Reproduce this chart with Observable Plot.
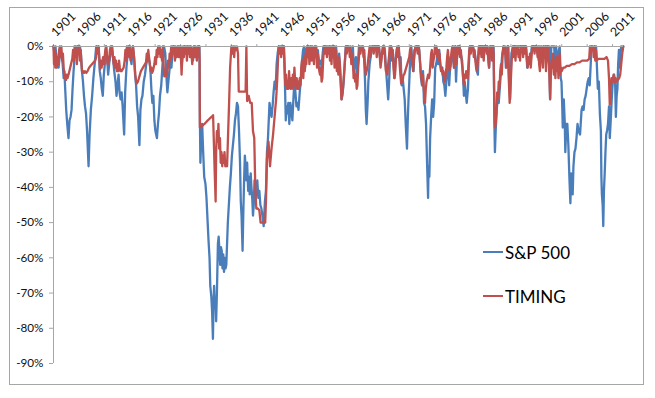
<!DOCTYPE html>
<html>
<head>
<meta charset="utf-8">
<script src="https://cdn.jsdelivr.net/npm/d3@7"></script>
<script src="https://cdn.jsdelivr.net/npm/@observablehq/plot@0.6"></script>
<style>
html,body{margin:0;padding:0;background:#fff;}
#wrap{position:relative;width:655px;height:398px;overflow:hidden;font-family:Lato,"Open Sans",sans-serif;}
#border{position:absolute;left:9px;top:7px;width:635px;height:378px;border:1px solid #a6a6a6;box-sizing:border-box;}
#chart{position:absolute;left:0;top:0;}
.leg{position:absolute;left:483px;height:20px;display:flex;align-items:center;font-size:17px;color:#000;white-space:nowrap;}
.leg .sw{display:inline-block;width:20px;height:2px;margin-right:2px;}
</style>
</head>
<body>
<div id="wrap"><div id="border"></div><div id="chart"></div></div>
<script>
// Drawdown series: [decimal year, drawdown %]
const sp500Drawdown = [
[1901.0,0],[1901.2,-2],[1901.4,0],[1901.6,-4],[1901.8,-3],[1902.0,-6],[1902.2,-3],[1902.4,-1],[1902.6,-2],[1902.8,-5],[1903.0,-9],[1903.15,-7],[1903.3,-12],[1903.5,-18],[1903.7,-22],[1903.95,-26],[1904.15,-21],[1904.35,-20],[1904.55,-18],[1904.75,-12],[1904.95,-7],[1905.15,-3],[1905.4,0],[1905.6,-2],[1905.8,0],[1906.0,-1],[1906.2,0],[1906.4,-2],[1906.6,-7],[1906.8,-10],[1907.0,-14],[1907.2,-17],[1907.4,-19],[1907.6,-24],[1907.9,-34],[1908.1,-25],[1908.35,-18],[1908.6,-14],[1908.85,-9],[1909.1,-5],[1909.4,0],[1909.7,-1],[1909.9,0],
[1910.1,-7],[1910.3,-9],[1910.5,-12],[1910.7,-14],[1910.9,-8],[1911.1,-5],[1911.35,0],[1911.55,-3],[1911.75,-8],[1911.95,-5],[1912.2,-2],[1912.45,0],[1912.7,-3],[1912.95,-7],[1913.2,-10],[1913.4,-14],[1913.6,-11],[1913.8,-8],[1914.0,-13],[1914.2,-15],[1914.4,-13],[1914.6,-17],[1914.9,-25],[1915.1,-13],[1915.35,-6],[1915.6,-2],[1915.9,0],[1916.1,-3],[1916.35,-5],[1916.6,0],[1916.85,-3],[1917.05,-8],[1917.25,-11],[1917.45,-17],[1917.65,-20],[1917.9,-28],[1918.1,-18],[1918.3,-15],[1918.5,-14],[1918.75,-10],[1919.0,-8],[1919.25,-5],[1919.6,-3],[1919.85,-4],
[1920.05,-6],[1920.25,-12],[1920.45,-16],[1920.65,-14],[1920.85,-21],[1921.05,-24],[1921.35,-26],[1921.55,-22],[1921.75,-19],[1921.95,-14],[1922.2,-11],[1922.5,-4],[1922.75,0],[1923.0,-2],[1923.2,-8],[1923.4,-13],[1923.6,-10],[1923.8,-7],[1924.0,-4],[1924.2,-6],[1924.4,-2],[1924.6,0],[1924.9,-1],[1925.2,-3],[1925.5,0],[1925.8,-1],[1926.1,0],[1926.25,-5],[1926.5,-1],[1926.8,0],[1927.1,-1],[1927.4,0],[1927.7,-2],[1928.0,0],[1928.3,-1],[1928.45,-4],[1928.7,0],[1929.0,-1],[1929.3,-3],[1929.55,0],[1929.72,0],
[1929.8,-19],[1929.9,-33],[1930.05,-27],[1930.25,-22],[1930.45,-30],[1930.65,-37],[1930.9,-39],[1931.1,-43],[1931.3,-49],[1931.5,-55],[1931.7,-60],[1931.85,-68],[1932.05,-71],[1932.2,-75],[1932.37,-83],[1932.5,-72],[1932.6,-68],[1932.75,-74],[1932.9,-73],[1933.0,-78],[1933.15,-70],[1933.35,-56],[1933.5,-54],[1933.65,-58],[1933.8,-62],[1933.95,-57],[1934.1,-58],[1934.25,-63],[1934.4,-59],[1934.55,-64],[1934.7,-60],[1934.85,-63],[1935.0,-62],[1935.15,-56],[1935.3,-50],[1935.5,-45],[1935.7,-40],[1935.9,-36],[1936.1,-31],[1936.3,-28],[1936.5,-25],[1936.7,-21],[1936.9,-19],[1937.1,-16],[1937.3,-17],[1937.5,-24],[1937.7,-33],[1937.85,-44],[1938.0,-48],[1938.2,-58],[1938.35,-47],[1938.5,-38],[1938.65,-31],[1938.8,-34],[1938.95,-38],[1939.1,-33],[1939.3,-41],[1939.45,-37],[1939.6,-42],[1939.8,-36],[1939.95,-40],[1940.1,-43],[1940.25,-48],[1940.4,-45],[1940.55,-38],[1940.75,-43],[1940.9,-41],[1941.1,-38],[1941.3,-43],[1941.5,-41],[1941.7,-45],[1941.9,-46],[1942.1,-48],[1942.35,-51],[1942.6,-44],[1942.8,-41],[1943.0,-30],[1943.2,-26],[1943.5,-16],[1943.7,-18],[1943.9,-20],[1944.1,-17],[1944.3,-13],[1944.5,-10],[1944.7,-12],[1944.9,-5],[1945.1,-2],[1945.3,0],[1945.6,-1],[1946.0,0],[1946.35,0],[1946.5,-8],[1946.7,-21],[1946.85,-17],[1947.0,-19],[1947.2,-16],[1947.4,-22],[1947.6,-16],[1947.8,-18],[1948.0,-21],[1948.2,-15],[1948.4,-10],[1948.6,-13],[1948.8,-17],[1949.0,-16],[1949.2,-18],[1949.45,-13],[1949.7,-9],[1949.9,-4],
[1950.1,-1],[1950.3,0],[1950.5,-6],[1950.7,-1],[1950.9,0],[1951.2,0],[1951.4,-3],[1951.6,0],[1951.9,-1],[1952.2,-2],[1952.5,0],[1952.8,-2],[1953.0,-1],[1953.3,-5],[1953.6,-4],[1953.75,-6],[1953.9,-3],[1954.1,0],[1954.5,0],[1955.0,-1],[1955.3,0],[1955.7,-3],[1955.9,0],[1956.2,0],[1956.4,-5],[1956.6,0],[1956.8,-5],[1957.0,-6],[1957.2,-2],[1957.45,-8],[1957.7,-15],[1957.9,-13],[1958.1,-10],[1958.3,-5],[1958.5,0],[1959.0,0],[1959.4,-1],[1959.7,-3],[1959.9,0],[1960.1,-7],[1960.3,-5],[1960.5,-3],[1960.7,-8],[1960.9,-5],[1961.1,0],[1961.5,-1],[1961.9,0],[1962.1,-3],[1962.3,-10],[1962.45,-18],[1962.6,-22],[1962.8,-16],[1962.95,-10],[1963.2,-5],[1963.5,-2],[1963.8,0],[1964.5,0],[1965.0,0],[1965.4,-5],[1965.6,-2],[1965.9,0],[1966.2,-1],[1966.4,-6],[1966.6,-10],[1966.85,-15],[1967.0,-11],[1967.2,-4],[1967.4,0],[1967.8,-2],[1968.1,-9],[1968.3,-4],[1968.6,-1],[1968.9,0],[1969.1,-4],[1969.3,-3],[1969.5,-11],[1969.7,-9],[1969.9,-12],
[1970.1,-15],[1970.3,-22],[1970.55,-29],[1970.7,-21],[1970.85,-15],[1971.0,-10],[1971.2,-3],[1971.4,0],[1971.6,-5],[1971.85,-7],[1972.0,-1],[1972.4,0],[1972.9,0],[1973.1,-4],[1973.3,-9],[1973.5,-11],[1973.7,-7],[1973.9,-16],[1974.1,-17],[1974.3,-22],[1974.5,-33],[1974.7,-43],[1974.8,-34],[1974.95,-37],[1975.1,-26],[1975.3,-20],[1975.5,-15],[1975.7,-20],[1975.9,-16],[1976.1,-6],[1976.3,-5],[1976.5,-3],[1976.7,-5],[1976.9,-1],[1977.1,-5],[1977.3,-7],[1977.5,-6],[1977.7,-10],[1977.9,-11],[1978.1,-14],[1978.3,-10],[1978.5,-7],[1978.7,-3],[1978.85,-11],[1979.0,-7],[1979.3,-4],[1979.6,0],[1979.8,-6],[1980.0,0],[1980.2,-10],[1980.4,-3],[1980.6,0],[1980.9,0],[1981.1,-2],[1981.4,-4],[1981.6,-9],[1981.75,-14],[1981.9,-10],[1982.1,-13],[1982.3,-16],[1982.55,-12],[1982.7,-6],[1982.9,0],[1983.5,0],[1983.9,-2],[1984.1,-4],[1984.3,-7],[1984.5,-8],[1984.7,0],[1985.0,0],[1985.5,0],[1986.0,0],[1986.3,0],[1986.7,-6],[1986.9,0],[1987.3,0],[1987.6,0],[1987.75,-22],[1987.85,-30],[1988.0,-24],[1988.2,-18],[1988.4,-15],[1988.6,-16],[1988.8,-12],[1989.0,-8],[1989.3,-2],[1989.6,0],[1989.9,-1],
[1990.0,-6],[1990.3,0],[1990.5,0],[1990.65,-10],[1990.85,-15],[1990.95,-9],[1991.1,-2],[1991.4,0],[1991.9,0],[1992.2,-2],[1992.5,0],[1993.0,0],[1993.5,0],[1994.0,0],[1994.2,-6],[1994.5,-3],[1994.9,-4],[1995.1,0],[1996.0,0],[1996.5,-4],[1996.7,0],[1997.2,-3],[1997.4,0],[1997.8,-3],[1997.9,0],[1998.5,0],[1998.7,-15],[1998.85,-5],[1998.95,0],[1999.5,0],[1999.7,-5],[1999.9,0],[2000.1,-5],[2000.3,-2],[2000.6,0],[2000.8,-9],[2000.95,-10],[2001.1,-17],[2001.2,-23],[2001.4,-15],[2001.6,-22],[2001.7,-30],[2001.9,-22],[2002.1,-22],[2002.3,-28],[2002.5,-37],[2002.7,-44.5],[2002.85,-36],[2003.0,-40],[2003.15,-42],[2003.3,-34],[2003.5,-30],[2003.7,-29],[2003.9,-26],[2004.1,-22],[2004.3,-24],[2004.6,-25],[2004.9,-18],[2005.1,-17],[2005.3,-18],[2005.5,-15],[2005.7,-14],[2005.9,-12],[2006.1,-10],[2006.3,-9],[2006.5,-11],[2006.7,-5],[2006.85,0],[2007.0,0],[2007.2,-1],[2007.5,0],[2007.6,-3],[2007.75,0],[2007.9,-5],[2008.1,-12],[2008.3,-10],[2008.5,-19],[2008.7,-24],[2008.8,-37],[2008.9,-42],[2009.05,-45],[2009.17,-51],[2009.3,-41],[2009.45,-36],[2009.6,-30],[2009.75,-25],[2009.9,-24],[2010.1,-22],[2010.3,-17],[2010.45,-26],[2010.6,-22],[2010.8,-16],[2010.95,-12],[2011.1,-9],[2011.3,-8],[2011.5,-10],[2011.65,-20],[2011.8,-14],[2011.95,-12],[2012.1,-5],[2012.25,-1],[2012.4,-6],[2012.55,-2],[2012.7,0],[2012.9,-1],[2013.1,0]
];

const timingDrawdown = [
[1901.0,0],[1901.1,-5],[1901.2,-1],[1901.35,-6],[1901.5,-2],[1901.65,-6],[1901.8,-3],[1901.95,-5],[1902.1,-1],[1902.25,0],[1902.4,-3],[1902.55,0],[1902.7,-4],[1902.85,-2],[1903.0,-6],[1903.15,-9],[1903.3,-8],[1903.45,-9.5],[1903.6,-8],[1903.75,-9],[1903.95,-8],[1904.2,-6.5],[1904.45,-5],[1904.7,-3.5],[1904.85,-1],[1905.0,-4],[1905.15,0],[1905.3,-3],[1905.45,-1],[1905.6,-5],[1905.75,0],[1905.9,-2],[1906.05,0],[1906.2,-4],[1906.35,-1],[1906.5,-5],[1906.65,-7.5],[1906.8,-7],[1907.0,-7.5],[1907.2,-7],[1907.45,-7.5],[1907.7,-7],[1908.0,-6],[1908.3,-5.5],[1908.6,-5],[1908.9,-4.5],[1909.2,-4],[1909.4,-3],[1909.55,0],[1909.7,-2],[1909.85,0],
[1910.0,-3],[1910.15,-6.5],[1910.3,-4],[1910.45,-6],[1910.6,-5],[1910.75,-3],[1910.9,-5],[1911.05,-3],[1911.2,-1],[1911.35,0],[1911.5,-2],[1911.65,-5],[1911.8,-3],[1911.95,-4],[1912.1,-1],[1912.25,0],[1912.4,-2],[1912.55,0],[1912.7,-3],[1912.85,-5],[1913.0,-3],[1913.15,-6],[1913.3,-4],[1913.45,-7],[1913.6,-5],[1913.75,-7],[1913.9,-4],[1914.05,-6],[1914.2,-7],[1914.4,-7],[1914.6,-6.5],[1914.8,-6],[1915.0,-4],[1915.15,-1],[1915.3,-4],[1915.45,0],[1915.6,-2],[1915.75,0],[1915.9,-3],[1916.05,0],[1916.2,-4],[1916.35,-1],[1916.5,-3],[1916.65,0],[1916.8,-2],[1916.95,-5],[1917.1,-8],[1917.25,-10],[1917.4,-10.5],[1917.6,-10],[1917.8,-9],[1918.0,-8],[1918.2,-7],[1918.4,-6.5],[1918.6,-6],[1918.8,-5.5],[1919.0,-5],[1919.2,-4.5],[1919.35,-2],[1919.5,-4],[1919.65,-1],[1919.8,-3],[1919.95,-5],
[1920.1,-7],[1920.25,-6],[1920.4,-7.5],[1920.55,-7],[1920.7,-6],[1920.85,-5],[1921.0,-3],[1921.15,-5],[1921.3,-1],[1921.45,-3],[1921.6,0],[1921.75,-2],[1921.9,0],[1922.05,-3],[1922.2,-1],[1922.35,-4],[1922.5,0],[1922.65,-5],[1922.8,-8.5],[1922.95,-7],[1923.1,-8],[1923.25,-8.5],[1923.4,-7],[1923.55,-4],[1923.7,-6],[1923.85,-2],[1924.0,-4],[1924.15,0],[1924.3,-3],[1924.45,0],[1924.6,-2],[1924.75,0],[1924.9,-4],[1925.05,0],[1925.2,-3],[1925.35,-1],[1925.5,0],[1925.65,-3],[1925.8,0],[1925.95,-2],[1926.1,-4],[1926.2,-8],[1926.35,-3],[1926.5,0],[1926.65,-3],[1926.8,0],[1926.95,-2],[1927.1,0],[1927.25,-4],[1927.4,0],[1927.55,-2],[1927.7,0],[1927.85,-3],[1928.0,0],[1928.15,-2],[1928.3,-5],[1928.45,-1],[1928.6,0],[1928.75,-3],[1928.9,0],[1929.05,-2],[1929.2,-4],[1929.35,0],[1929.5,-3],[1929.65,0],[1929.75,-4],
[1929.8,-23],[1930.2,-22.6],[1930.7,-22],[1931.2,-21.2],[1931.7,-20.5],[1932.1,-20],[1932.4,-19.5],[1932.55,-27],[1932.7,-35],[1932.9,-44],[1933.0,-30],[1933.15,-24],[1933.3,-27],[1933.45,-22],[1933.6,-29],[1933.75,-26],[1933.9,-33],[1934.05,-30],[1934.2,-34],[1934.35,-31],[1934.5,-33],[1934.65,-30],[1934.8,-34],[1934.95,-33],[1935.15,-34],[1935.35,-25],[1935.55,-16],[1935.75,-6],[1936.0,0],[1936.2,-2],[1936.35,0],[1936.55,-3],[1936.7,0],[1936.9,-1],[1937.1,0],[1937.3,-2],[1937.45,-12.8],[1938.8,-12.8],[1938.95,0],[1939.1,-15.5],[1939.4,-14],[1939.7,-16],[1940.0,-16],[1940.25,-24],[1940.5,-26],[1940.7,-40],[1940.9,-46],[1941.2,-46],[1941.5,-46.5],[1941.75,-50],[1942.3,-50],[1942.65,-50],[1942.8,-44],[1943.0,-32],[1943.3,-27],[1943.6,-34],[1943.9,-29],[1944.2,-25],[1944.5,-20],[1944.8,-15],[1945.0,-10],[1945.2,-3],[1945.35,0],[1945.5,-2],[1945.65,0],[1945.8,-3],[1945.95,0],[1946.1,-2],[1946.3,0],[1946.45,-5],[1946.6,-11],[1946.75,-8],[1946.9,-12],[1947.05,-10],[1947.2,-12],[1947.35,-7],[1947.5,-11],[1947.65,-12],[1947.8,-9],[1947.95,-12],[1948.1,-8],[1948.25,-11],[1948.4,-6],[1948.55,-10],[1948.7,-12],[1948.85,-9],[1949.0,-12],[1949.15,-10],[1949.3,-12],[1949.45,-9],[1949.6,-11],[1949.75,-6],[1949.9,-4],
[1950.0,-5],[1950.15,-9],[1950.3,-3],[1950.45,-7],[1950.6,-2],[1950.75,-5],[1950.9,0],[1951.05,-3],[1951.2,0],[1951.35,-5],[1951.5,-2],[1951.65,0],[1951.8,-4],[1951.95,0],[1952.1,-2],[1952.25,-5],[1952.4,0],[1952.55,-3],[1952.7,0],[1952.85,-6],[1953.0,-2],[1953.15,-5],[1953.3,-7],[1953.45,-8],[1953.6,-6],[1953.75,-10],[1953.9,-9],[1954.05,-4],[1954.2,-1],[1954.35,0],[1954.5,-2],[1954.65,0],[1954.8,-3],[1954.95,0],[1955.1,-2],[1955.25,0],[1955.4,-4],[1955.55,0],[1955.7,-5],[1955.85,0],[1956.0,-3],[1956.15,0],[1956.3,-6],[1956.45,-4],[1956.6,-1],[1956.75,-7],[1956.9,-5],[1957.05,-8],[1957.2,-3],[1957.35,-5],[1957.5,-10],[1957.65,-15],[1957.8,-14],[1957.95,-12],[1958.1,-9],[1958.25,-6],[1958.4,-3],[1958.55,0],[1958.7,-2],[1958.85,0],[1959.0,-1],[1959.15,0],[1959.3,-3],[1959.45,0],[1959.6,-5],[1959.75,-2],[1959.9,-4],
[1960.05,-9],[1960.2,-7],[1960.35,-10],[1960.5,-8],[1960.65,-12],[1960.8,-11],[1960.95,-6],[1961.1,-3],[1961.25,0],[1961.4,-2],[1961.55,0],[1961.7,-1],[1961.85,0],[1962.0,-3],[1962.15,-1],[1962.3,-6],[1962.45,-8],[1962.6,-7],[1962.75,-6],[1962.9,-4],[1963.05,-2],[1963.2,0],[1963.35,-3],[1963.5,0],[1963.65,-1],[1963.8,0],[1964.0,-2],[1964.15,0],[1964.3,-1],[1964.45,0],[1964.6,-3],[1964.75,0],[1964.9,-1],[1965.05,0],[1965.2,-3],[1965.35,-6],[1965.5,-4],[1965.65,-2],[1965.8,0],[1965.95,-2],[1966.1,0],[1966.25,-4],[1966.4,-7],[1966.55,-6],[1966.7,-8],[1966.85,-5],[1967.0,-3],[1967.15,0],[1967.3,-2],[1967.45,0],[1967.6,-4],[1967.75,-1],[1967.9,-6],[1968.05,-9],[1968.2,-8],[1968.35,-4],[1968.5,-1],[1968.65,0],[1968.8,-3],[1968.95,0],[1969.1,-5],[1969.25,-8],[1969.4,-10.5],[1969.55,-9],[1969.7,-10],[1969.85,-8],
[1970.0,-8],[1970.2,-7],[1970.4,-6],[1970.6,-5],[1970.8,-4],[1971.0,-3],[1971.15,-1],[1971.3,0],[1971.45,-3],[1971.6,-5],[1971.75,-7],[1971.9,-4],[1972.05,-2],[1972.2,0],[1972.35,-1],[1972.5,0],[1972.65,-2],[1972.8,0],[1972.95,-1],[1973.1,-4],[1973.25,-7],[1973.4,-9],[1973.55,-11],[1973.7,-8],[1973.85,-12],[1974.0,-14],[1974.1,-16],[1974.25,-12],[1974.4,-10],[1974.55,-9],[1974.7,-8],[1974.85,-9],[1975.0,-8],[1975.15,-5],[1975.3,-2],[1975.45,-1],[1975.6,-6],[1975.75,-4],[1975.9,-3],[1976.05,0],[1976.2,-2],[1976.35,0],[1976.5,-3],[1976.65,-1],[1976.8,-4],[1976.95,-2],[1977.1,-5],[1977.25,-7],[1977.4,-6],[1977.55,-8],[1977.7,-7],[1977.85,-9],[1978.0,-10],[1978.15,-8],[1978.3,-6],[1978.45,-3],[1978.6,-1],[1978.75,-4],[1978.9,-7],[1979.05,-5],[1979.2,-3],[1979.35,-1],[1979.5,0],[1979.65,-2],[1979.8,-6],[1979.95,-3],
[1980.1,0],[1980.25,-5],[1980.4,-3],[1980.55,0],[1980.7,-2],[1980.85,0],[1981.0,-3],[1981.15,-1],[1981.3,-4],[1981.45,-6],[1981.6,-9],[1981.75,-11],[1981.9,-8],[1982.05,-9],[1982.2,-7],[1982.35,-8],[1982.5,-9],[1982.65,-5],[1982.8,-1],[1982.95,0],[1983.1,-2],[1983.25,0],[1983.4,-1],[1983.55,0],[1983.7,-3],[1983.85,-1],[1984.0,-4],[1984.15,-6],[1984.3,-7],[1984.45,-5],[1984.6,-2],[1984.75,0],[1984.9,-2],[1985.05,0],[1985.2,-3],[1985.35,0],[1985.5,-1],[1985.65,-4],[1985.8,0],[1985.95,-1],[1986.1,0],[1986.25,-2],[1986.4,0],[1986.55,-3],[1986.7,-6],[1986.85,-2],[1987.0,0],[1987.15,-1],[1987.3,-4],[1987.45,0],[1987.6,-2],[1987.75,-18],[1987.85,-23],[1988.0,-22],[1988.15,-19],[1988.3,-13],[1988.45,-15],[1988.6,-10],[1988.75,-12],[1988.9,-7],[1989.05,-5],[1989.2,-8],[1989.35,-3],[1989.5,0],[1989.65,-2],[1989.8,0],[1989.95,-3],
[1990.1,-6],[1990.25,-2],[1990.4,0],[1990.55,-8],[1990.75,-16],[1990.9,-12],[1991.0,-9],[1991.15,-4],[1991.3,-1],[1991.45,0],[1991.6,-3],[1991.75,0],[1991.9,-4],[1992.05,0],[1992.2,-2],[1992.35,0],[1992.5,-3],[1992.65,-1],[1992.8,-4],[1992.95,0],[1993.1,-1],[1993.25,0],[1993.4,-3],[1993.55,0],[1993.7,-2],[1993.85,0],[1994.0,-1],[1994.15,-4],[1994.3,-6],[1994.45,-3],[1994.6,-5],[1994.75,-2],[1994.9,-6],[1995.05,-3],[1995.2,0],[1995.35,-1],[1995.5,0],[1995.65,-2],[1995.8,0],[1995.95,-1],[1996.1,0],[1996.25,-3],[1996.4,0],[1996.55,-5],[1996.7,-7],[1996.85,-2],[1997.0,0],[1997.15,-3],[1997.3,-6],[1997.45,0],[1997.6,-2],[1997.75,0],[1997.9,-7],[1998.05,-3],[1998.2,0],[1998.35,-2],[1998.5,-5],[1998.6,-10],[1998.72,-15],[1998.85,-8],[1999.0,-4],[1999.15,-6],[1999.3,-2],[1999.45,-8],[1999.6,-4],[1999.75,-9],[1999.9,-3],
[2000.05,-7],[2000.2,-3],[2000.35,-9],[2000.5,-4],[2000.6,-2],[2000.7,-8],[2000.85,-6],[2001.0,-7],[2001.3,-6],[2001.6,-6],[2002.0,-5.5],[2002.5,-5.5],[2003.0,-5],[2003.5,-5],[2004.0,-4.5],[2004.5,-4.5],[2005.0,-4],[2005.5,-4],[2006.0,-4],[2006.4,-3.5],[2006.55,0],[2006.7,-2],[2006.85,0],[2007.0,-1],[2007.15,0],[2007.3,-3],[2007.45,0],[2007.6,-4],[2007.75,-1],[2007.9,-4],[2008.2,-3.5],[2008.6,-3.5],[2009.0,-3.5],[2009.4,-3.5],[2009.8,-3],[2010.1,-4],[2010.3,-9],[2010.45,-16.5],[2010.6,-12],[2010.8,-9],[2011.0,-10],[2011.2,-8],[2011.4,-10],[2011.6,-9],[2011.8,-10],[2012.0,-9.5],[2012.3,-9],[2012.5,-8],[2012.7,-5],[2012.9,-2],[2013.1,0]
];

const seriesNames = ["S&P 500", "TIMING"];
const seriesColors = ["#4a7ebb", "#c0504d"];
const xTickYears = [1901,1906,1911,1916,1921,1926,1931,1936,1941,1946,1951,1956,1961,1966,1971,1976,1981,1986,1991,1996,2001,2006,2011];
const yTickValues = [0,-0.1,-0.2,-0.3,-0.4,-0.5,-0.6,-0.7,-0.8,-0.9];
const xDomain = [1901, 2013.15];
const yDomain = [-0.9, 0];

const toRows = (arr, name) => arr.map(([t, v]) => ({t, v: v / 100, name}));
const rowsSP = toRows(sp500Drawdown, seriesNames[0]);
const rowsTM = toRows(timingDrawdown, seriesNames[1]);

const axisGray = "#a6a6a6";

const chart = Plot.plot({
  width: 655,
  height: 398,
  marginLeft: 53,
  marginRight: 32,
  marginTop: 46,
  marginBottom: 35,
  style: {fontFamily: "Lato, 'Open Sans', sans-serif", background: "transparent", color: "#111"},
  x: {domain: xDomain},
  y: {domain: yDomain},
  marks: [
    Plot.ruleX([xDomain[0]], {stroke: axisGray, strokeWidth: 1}),
    Plot.axisY({ticks: yTickValues, tickSize: 4, tickPadding: 6, stroke: axisGray, fill: "#111", fontSize: 11.7,
      tickFormat: d => `${Math.round(d * 100)}%`, label: null}),
    Plot.axisX({anchor: "top", ticks: xTickYears, tickSize: 3, tickPadding: 9, tickRotate: -45, stroke: axisGray, fill: "#111",
      fontSize: 12.3, tickFormat: d => String(d), label: null}),
    Plot.line(rowsSP, {x: "t", y: "v", stroke: seriesColors[0], strokeWidth: 2.3}),
    Plot.line(rowsTM, {x: "t", y: "v", stroke: seriesColors[1], strokeWidth: 2.3}),
    Plot.ruleY([0], {stroke: axisGray, strokeWidth: 1})
  ]
});
document.getElementById("chart").appendChild(chart);

// legend (HTML, inside plot area)
const wrap = document.getElementById("wrap");
const legendTops = [242, 286];
seriesNames.forEach((name, i) => {
  const d = document.createElement("div");
  d.className = "leg";
  d.style.top = legendTops[i] + "px";
  d.innerHTML = `<span class="sw" style="background:${seriesColors[i]}"></span>`;
  d.appendChild(document.createTextNode(name));
  wrap.appendChild(d);
});
</script>
</body>
</html>
